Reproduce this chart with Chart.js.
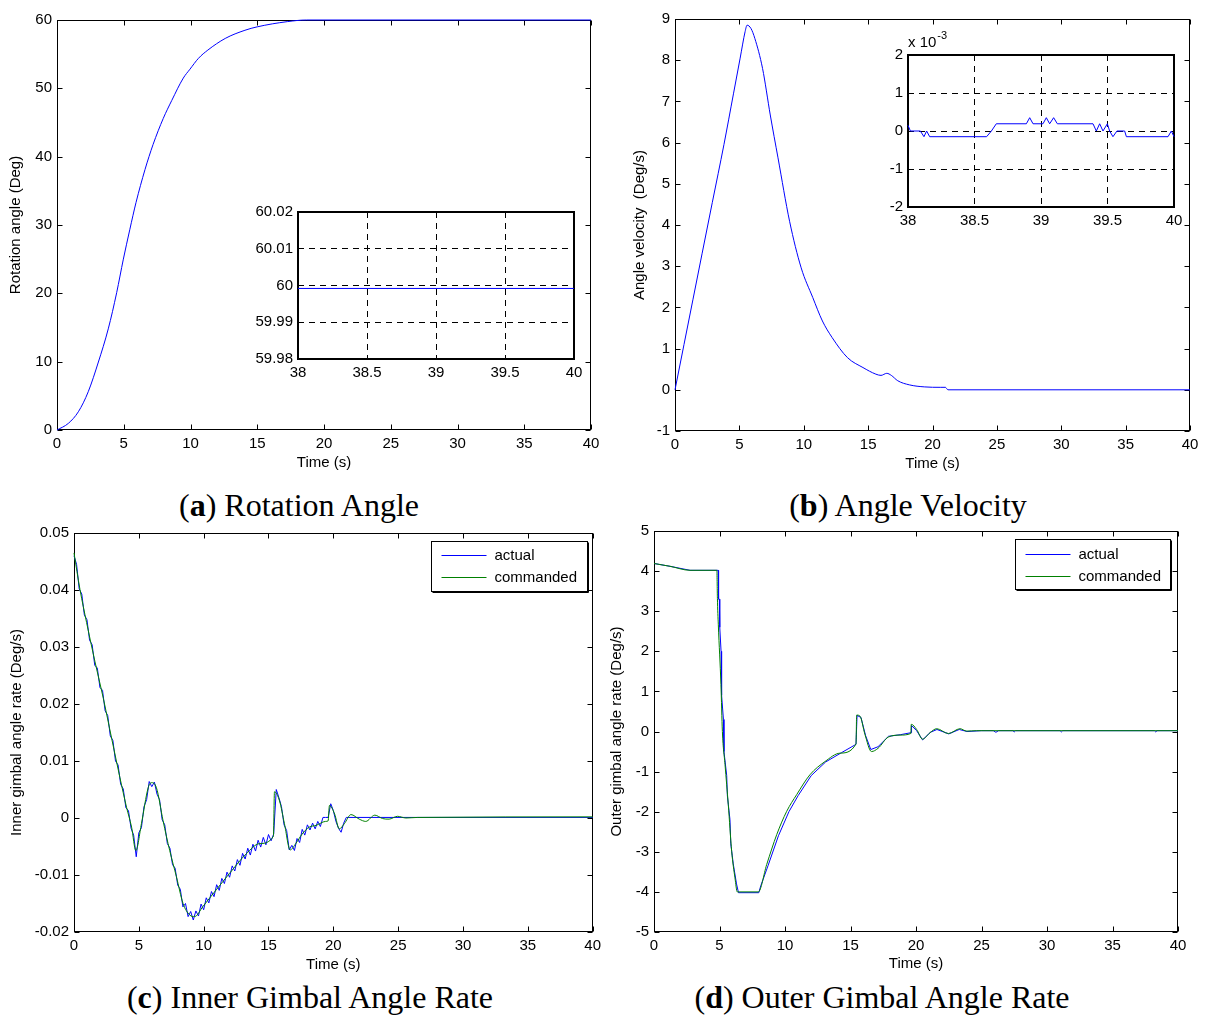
<!DOCTYPE html>
<html>
<head>
<meta charset="utf-8">
<script src="https://cdn.jsdelivr.net/npm/chart.js@4.4.0/dist/chart.umd.min.js"></script>
<style>
html, body { margin: 0; padding: 0; background: #fff; }
body { width: 1206px; height: 1017px; position: relative; overflow: hidden; }
canvas { position: absolute; }
.cap { position: absolute; font-family: "Liberation Serif", "Times New Roman", serif; font-size: 32px; line-height: 32px; white-space: nowrap; transform: translateX(-50%); color: #000; }
</style>
</head>
<body>
<div class="cap" style="left:299px; top:489px">(<b>a</b>) Rotation Angle</div>
<div class="cap" style="left:908px; top:489px">(<b>b</b>) Angle Velocity</div>
<div class="cap" style="left:310px; top:981px">(<b>c</b>) Inner Gimbal Angle Rate</div>
<div class="cap" style="left:882px; top:981px">(<b>d</b>) Outer Gimbal Angle Rate</div>
<script>
// ---- data ----
const timeTicks = [0, 5, 10, 15, 20, 25, 30, 35, 40];
const zoomTimeTicks = [38, 38.5, 39, 39.5, 40];

// (a) rotation angle
const rotT = [0, 0.85, 1.6, 2.34, 3.1, 3.84, 4.47, 4.97, 5.45, 5.92, 6.59, 7.2, 7.96, 8.59, 9.46, 9.96, 10.6, 11.3, 12.6, 14.08, 15.0, 17.25, 18.7, 40];
const rotV = [0, 0.97, 2.67, 5.6, 9.95, 14.8, 20.1, 25.0, 29.3, 33.3, 38.1, 41.8, 45.6, 48.2, 51.5, 52.8, 54.4, 55.6, 57.3, 58.5, 59.0, 59.76, 60, 60];
const rotTicks = [0, 10, 20, 30, 40, 50, 60];
const rotZoomT = [38, 40];
const rotZoomV = [59.9992, 59.9992];
const rotZoomTicks = [59.98, 59.99, 60, 60.01, 60.02];

// (b) angle velocity
const velT = [0, 0.7, 1.4, 2.1, 2.9, 3.8, 4.55, 5.06, 5.45, 5.6, 5.9, 6.2, 6.8, 7.4, 8.0, 8.9, 9.8, 10.7, 11.45, 12.2, 13.4, 14.6, 15.6, 16.0, 16.45, 16.8, 17.3, 18.2, 19.4, 20.6, 21.0, 21.2, 40];
const velV = [0, 1.1, 2.2, 3.3, 4.55, 5.95, 7.2, 8.05, 8.7, 8.85, 8.77, 8.53, 7.8, 6.67, 5.63, 4.09, 2.96, 2.24, 1.67, 1.27, 0.78, 0.54, 0.38, 0.35, 0.40, 0.35, 0.22, 0.12, 0.07, 0.06, 0.06, 0, 0];
const velTicks = [-1, 0, 1, 2, 3, 4, 5, 6, 7, 8, 9];
// zoomed tail, in units of 1e-3
const velZoomT = [38.000, 38.018, 38.093, 38.120, 38.140, 38.163, 38.591, 38.627, 38.664, 38.890, 38.915, 38.940, 39.015, 39.040, 39.065, 39.095, 39.123, 39.391, 39.416, 39.441, 39.466, 39.499, 39.516, 39.541, 39.571, 39.629, 39.642, 39.955, 39.980, 40.000];
const velZoomV = [0.15, 0, 0, -0.15, 0, -0.15, -0.15, 0, 0.19, 0.19, 0.35, 0.19, 0.19, 0.35, 0.19, 0.35, 0.19, 0.19, 0, 0.19, 0, 0.19, 0, -0.15, 0, 0, -0.15, -0.15, 0, -0.15];
const velZoomTicks = [-2, -1, 0, 1, 2];

// (c) inner gimbal angle rate
const innerCmdT = [0, 0.46, 0.97, 1.62, 2.26, 2.9, 3.54, 4.05, 4.44, 4.77, 5.2, 5.72, 5.97, 6.36, 6.87, 7.38, 7.9, 8.41, 8.92, 9.3, 9.95, 10.97, 12.0, 13.28, 14.3, 15.38, 15.46, 15.85, 16.23, 16.67, 17.1, 17.6, 18.15, 18.67, 19.4, 19.6, 19.7, 20.1, 20.46, 20.85, 21.36, 22.0, 22.5, 23.2, 23.8, 24.3, 24.95, 25.6, 26.5, 40];
const innerCmdV = [0.0465, 0.0401, 0.0343, 0.0274, 0.0210, 0.0140, 0.0071, 0.0019, -0.0016, -0.0057, -0.0010, 0.0053, 0.0062, 0.0053, -0.0005, -0.0057, -0.0103, -0.0150, -0.0170, -0.0173, -0.0155, -0.0126, -0.0097, -0.0063, -0.0045, -0.0032, 0.0046, 0.0030, -0.0010, -0.0056, -0.0045, -0.0028, -0.0016, -0.0013, -0.0006, -0.0005, 0.0022, 0.0007, -0.0019, -0.0010, 0.0006, -0.0002, -0.0006, 0.0005, -0.0001, -0.0002, 0.0003, 0.0000, 0.0001, 0.0002];
const innerActDt = 0.2; // sample spacing of the noisy part, 0 .. 21 s
const innerActV = [
  0.0460, 0.0445, 0.0402, 0.0393, 0.0356, 0.0348, 0.0312, 0.0304, 0.0268, 0.0263,
  0.0229, 0.0224, 0.0188, 0.0180, 0.0144, 0.0136, 0.0100, 0.0093, 0.0059, 0.0051,
  0.0018, 0.0013, -0.0018, -0.0030, -0.0068, -0.0026, -0.0017, 0.0020, 0.0032, 0.0064,
  0.0055, 0.0063, 0.0042, 0.0032, -0.0003, -0.0012, -0.0045, -0.0053, -0.0082, -0.0088,
  -0.0118, -0.0125, -0.0156, -0.0150, -0.0173, -0.0164, -0.0179, -0.0163, -0.0172, -0.0151,
  -0.0161, -0.0140, -0.0149, -0.0129, -0.0138, -0.0117, -0.0127, -0.0106, -0.0115, -0.0095,
  -0.0104, -0.0084, -0.0093, -0.0073, -0.0083, -0.0062, -0.0072, -0.0053, -0.0065, -0.0046,
  -0.0058, -0.0039, -0.0051, -0.0034, -0.0047, -0.0029, -0.0040, -0.0028, 0.0050, 0.0036,
  0.0020, -0.0012, -0.0022, -0.0056, -0.0048, -0.0057, -0.0036, -0.0043, -0.0020, -0.0030,
  -0.0012, -0.0021, -0.0009, -0.0019, -0.0006, -0.0015, 0.0001, 0.0001, 0.0001, 0.0025,
  0.0013, -0.0006, -0.0018, -0.0025, -0.0009, 0.0001
];
const innerActTailT = [40];
const innerActTailV = [0.0001];
const innerTicks = [-0.02, -0.01, 0, 0.01, 0.02, 0.03, 0.04, 0.05];

// (d) outer gimbal angle rate
const outerCmdT = [0, 1.22, 2.75, 4.8, 4.84, 4.91, 5.11, 5.22, 5.42, 5.67, 5.93, 6.18, 6.36, 7.96, 8.6, 9.37, 10.13, 10.9, 11.9, 13.05, 14.2, 15.42, 15.47, 15.73, 16.1, 16.6, 17.1, 17.88, 18.78, 19.6, 19.64, 20.05, 20.5, 21.07, 21.58, 22.47, 23.36, 23.87, 24.6, 40];
const outerCmdV = [4.19, 4.12, 4.02, 4.02, 3.32, 2.66, 1.17, 0, -0.82, -1.82, -2.99, -3.65, -4.0, -4.0, -3.32, -2.57, -1.99, -1.57, -1.08, -0.75, -0.54, -0.31, 0.41, 0.38, -0.07, -0.50, -0.42, -0.14, -0.09, -0.05, 0.18, 0.05, -0.19, -0.03, 0.07, -0.05, 0.07, 0.01, 0.02, 0.02];
const outerActT = [0, 1.22, 2.75, 4.9, 4.93, 4.99, 5.02, 5.12, 5.16, 5.3, 5.34, 5.55, 5.6, 5.8, 5.86, 6.05, 6.3, 6.45, 8.0, 8.15, 8.7, 9.5, 10.3, 11.0, 12.0, 13.1, 14.3, 15.42, 15.5, 15.8, 16.15, 16.55, 17.1, 17.9, 18.8, 19.62, 19.66, 20.05, 20.5, 21.1, 21.6, 22.5, 23.3, 23.9, 25.0, 25.9, 26.1, 26.3, 27.4, 27.5, 27.6, 31.0, 31.1, 31.2, 38.2, 38.3, 38.4, 40];
const outerActV = [4.19, 4.12, 4.02, 4.02, 3.3, 3.3, 2.6, 2.0, 0.9, 0.3, -0.5, -1.1, -1.6, -2.2, -2.8, -3.3, -3.8, -4.02, -4.02, -3.85, -3.35, -2.6, -2.0, -1.6, -1.1, -0.76, -0.53, -0.32, 0.40, 0.35, -0.1, -0.45, -0.38, -0.12, -0.08, -0.03, 0.15, 0.02, -0.21, -0.02, 0.05, -0.06, 0.05, 0.0, 0.02, 0.02, -0.02, 0.02, 0.02, -0.01, 0.02, 0.02, -0.01, 0.02, 0.02, -0.01, 0.02, 0.02];
const outerTicks = [-5, -4, -3, -2, -1, 0, 1, 2, 3, 4, 5];

// ---- drawing ----
const FONT = { family: '"Liberation Sans", Arial, Helvetica, sans-serif', size: 15 };
const BLUE = '#0000ff';
const GREEN = '#008000';

// matlab style box: frame, inward ticks, legend, exponent label
const matlabBox = {
  id: 'mbox',
  beforeDraw(chart, args, o) {
    if (!o.fill) return;
    const a = chart.chartArea, ctx = chart.ctx;
    ctx.save();
    ctx.fillStyle = '#fff';
    ctx.fillRect(a.left, a.top, a.right - a.left, a.bottom - a.top);
    ctx.restore();
  },
  beforeDatasetsDraw(chart, args, o) {
    const a = chart.chartArea, ctx = chart.ctx;
    const lw = o.lw || 1;
    const off = lw % 2 ? 0.5 : 0;
    const L = Math.round(a.left) + off, R = Math.round(a.right) - off;
    const T = Math.round(a.top) + off, B = Math.round(a.bottom) - off;
    ctx.save();
    ctx.strokeStyle = '#000';
    ctx.lineWidth = lw;
    ctx.strokeRect(L, T, R - L, B - T);
    if (o.tick) {
      const xs = chart.scales.x, ys = chart.scales.y;
      ctx.lineWidth = 1;
      ctx.beginPath();
      xs.ticks.forEach(t => {
        const p = Math.round(xs.getPixelForValue(t.value)) + 0.5;
        ctx.moveTo(p, B); ctx.lineTo(p, B - o.tick);
        ctx.moveTo(p, T); ctx.lineTo(p, T + o.tick);
      });
      ys.ticks.forEach(t => {
        const p = Math.round(ys.getPixelForValue(t.value)) + 0.5;
        ctx.moveTo(L, p); ctx.lineTo(L + o.tick, p);
        ctx.moveTo(R, p); ctx.lineTo(R - o.tick, p);
      });
      ctx.stroke();
    }
    ctx.restore();
  },
  afterDatasetsDraw(chart, args, o) {
    const a = chart.chartArea, ctx = chart.ctx;
    ctx.save();
    if (o.legend) {
      const g = o.legend;
      const x0 = Math.round(a.right - g.right - g.w) + 0.5;
      const y0 = Math.round(a.top + g.top) + 0.5;
      ctx.fillStyle = '#fff';
      ctx.fillRect(x0, y0, g.w, g.h);
      ctx.strokeStyle = '#000';
      ctx.lineWidth = 1;
      ctx.strokeRect(x0, y0, g.w, g.h);
      ctx.beginPath();
      ctx.moveTo(x0 + 1, y0 + g.h + 1);
      ctx.lineTo(x0 + g.w + 1, y0 + g.h + 1);
      ctx.lineTo(x0 + g.w + 1, y0 + 1);
      ctx.stroke();
      ctx.font = FONT.size + 'px ' + FONT.family;
      ctx.textBaseline = 'middle';
      ctx.textAlign = 'left';
      chart.data.datasets.forEach((ds, i) => {
        const y = Math.round(y0 + g.row + i * g.gap) + 0.5;
        ctx.strokeStyle = ds.borderColor;
        ctx.beginPath();
        ctx.moveTo(x0 + 10, y); ctx.lineTo(x0 + 55, y);
        ctx.stroke();
        ctx.fillStyle = '#000';
        ctx.fillText(ds.label, x0 + 63, y);
      });
    }
    if (o.exponent) {
      ctx.fillStyle = '#000';
      ctx.textAlign = 'left';
      ctx.textBaseline = 'alphabetic';
      ctx.font = FONT.size + 'px ' + FONT.family;
      ctx.fillText('x 10', a.left, a.top - 8);
      const w = ctx.measureText('x 10').width;
      ctx.font = '11px ' + FONT.family;
      ctx.fillText(o.exponent, a.left + w + 1, a.top - 16);
    }
    ctx.restore();
  }
};
Chart.register(matlabBox);

function series(label, xs, ys, color, smooth, order) {
  return {
    label: label,
    data: xs.map((x, i) => ({ x: x, y: ys[i] })),
    borderColor: color,
    borderWidth: 1,
    pointRadius: 0,
    fill: false,
    tension: smooth ? 0.4 : 0,
    cubicInterpolationMode: smooth ? 'monotone' : 'default',
    clip: 3,
    order: order || 0
  };
}

function axis(pos, ticks, title, titlePad, size, grid) {
  return {
    type: 'linear',
    position: pos,
    min: ticks[0],
    max: ticks[ticks.length - 1],
    afterBuildTicks: s => { s.ticks = ticks.map(v => ({ value: v })); },
    afterFit: s => { if (pos === 'left') s.width = size; else s.height = size; },
    ticks: { font: FONT, color: '#000', padding: 5, maxRotation: 0, minRotation: 0, autoSkip: false, callback: v => String(v) },
    grid: grid ? { display: true, color: '#000', lineWidth: 1, drawTicks: false } : { display: false, drawTicks: false },
    border: { display: false, dash: [6, 5] },
    title: title ? { display: true, text: title, font: FONT, color: '#000', padding: { top: titlePad, bottom: titlePad } } : { display: false }
  };
}

function panel(box, datasets, xTicks, yTicks, xTitle, yTitle, opts) {
  const cv = document.createElement('canvas');
  const left = box.L - box.yW, top = box.T - box.padT;
  const w = box.R + box.padR - left, h = box.B + box.xH - top;
  cv.width = w; cv.height = h;
  cv.style.left = left + 'px';
  cv.style.top = top + 'px';
  document.body.appendChild(cv);
  return new Chart(cv, {
    type: 'line',
    data: { datasets: datasets },
    options: {
      responsive: false,
      animation: false,
      devicePixelRatio: 1,
      layout: { padding: { left: 0, top: box.padT, right: box.padR, bottom: 0 } },
      scales: {
        x: axis('bottom', xTicks, xTitle, box.xTitlePad, box.xH, opts.grid),
        y: axis('left', yTicks, yTitle, box.yTitlePad, box.yW, opts.grid)
      },
      plugins: { legend: { display: false }, tooltip: { enabled: false }, mbox: opts }
    }
  });
}

// (a)
panel({ L: 57, T: 18, R: 591, B: 430, yW: 57, xH: 45, padT: 12, padR: 14, yTitlePad: 7, xTitlePad: 3 },
  [series('angle', rotT, rotV, BLUE, true)],
  timeTicks, rotTicks, 'Time (s)', 'Rotation angle (Deg)', { lw: 1, tick: 5 });

// (b)
panel({ L: 675, T: 17, R: 1190, B: 431, yW: 60, xH: 45, padT: 12, padR: 14, yTitlePad: 16, xTitlePad: 3 },
  [series('velocity', velT, velV, BLUE, true)],
  timeTicks, velTicks, 'Time (s)', 'Angle velocity  (Deg/s)', { lw: 1, tick: 5 });

// (c)
const innerActT = innerActV.map((v, i) => i * innerActDt).concat(innerActTailT);
panel({ L: 74, T: 531, R: 594, B: 932, yW: 74, xH: 45, padT: 12, padR: 12, yTitlePad: 8, xTitlePad: 3 },
  [series('actual', innerActT, innerActV.concat(innerActTailV), BLUE, false, 1),
   series('commanded', innerCmdT, innerCmdV, GREEN, true, 0)],
  timeTicks, innerTicks, 'Time (s)', 'Inner gimbal angle rate (Deg/s)',
  { lw: 1, tick: 5, legend: { right: 6, top: 8, w: 156, h: 50, row: 13, gap: 22 } });

// (d)
panel({ L: 654, T: 529, R: 1178, B: 932, yW: 49, xH: 45, padT: 12, padR: 14, yTitlePad: 3, xTitlePad: 4 },
  [series('actual', outerActT, outerActV, BLUE, false, 1),
   series('commanded', outerCmdT, outerCmdV, GREEN, true, 0)],
  timeTicks, outerTicks, 'Time (s)', 'Outer gimbal angle rate (Deg/s)',
  { lw: 1, tick: 5, legend: { right: 8, top: 8, w: 155, h: 50, row: 14, gap: 22 } });

// zoomed insets
panel({ L: 298, T: 208, R: 574, B: 359, yW: 50, xH: 25, padT: 10, padR: 14, yTitlePad: 0, xTitlePad: 0 },
  [series('angle', rotZoomT, rotZoomV, BLUE, false)],
  zoomTimeTicks, rotZoomTicks, null, null, { fill: true, lw: 2, tick: 0, grid: true });

panel({ L: 908, T: 55, R: 1174, B: 207, yW: 30, xH: 25, padT: 25, padR: 14, yTitlePad: 0, xTitlePad: 0 },
  [series('velocity', velZoomT, velZoomV, BLUE, false)],
  zoomTimeTicks, velZoomTicks, null, null, { fill: true, lw: 2, tick: 0, grid: true, exponent: '-3' });
</script>
</body>
</html>
